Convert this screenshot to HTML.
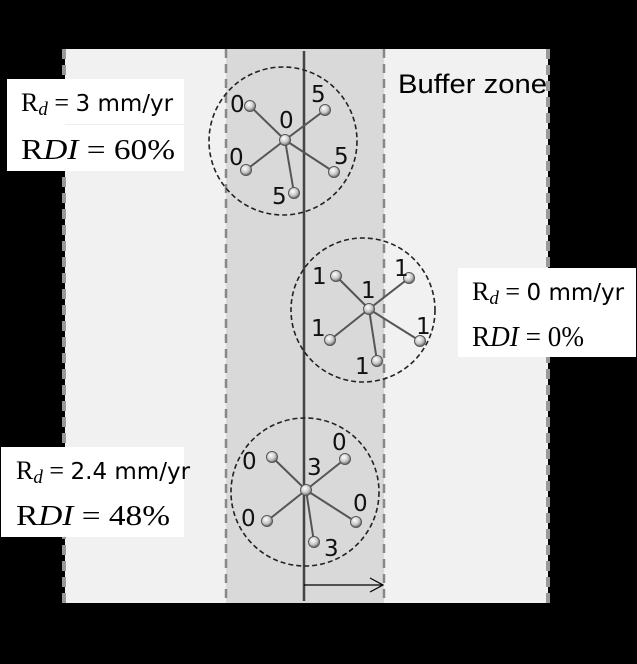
<!DOCTYPE html>
<html><head><meta charset="utf-8"><style>
html,body{margin:0;padding:0;background:#000;}
svg{display:block;}
.m{font-family:"Liberation Serif",serif;font-size:26px;fill:#000;}
.r{font-family:"Liberation Serif",serif;font-size:28px;fill:#000;}
.s{font-family:"DejaVu Sans","Liberation Sans",sans-serif;font-size:23px;}
.n{font-family:"DejaVu Sans","Liberation Sans",sans-serif;font-size:23px;fill:#111;}
</style></head><body>
<svg width="637" height="664" viewBox="0 0 637 664" xmlns="http://www.w3.org/2000/svg">
<defs>
<radialGradient id="g" cx="40%" cy="35%" r="65%">
<stop offset="0" stop-color="#fff"/><stop offset="0.6" stop-color="#c8c8c8"/><stop offset="1" stop-color="#666"/>
</radialGradient>
</defs>
<rect width="637" height="664" fill="#000"/>
<rect x="65" y="49" width="483" height="554" fill="#f1f1f1"/>
<rect x="226" y="49" width="158" height="554" fill="#d9d9d9"/>
<g stroke="#999" stroke-width="4" stroke-dasharray="10,6">
<line x1="64" y1="49" x2="64" y2="603"/>
<line x1="548" y1="49" x2="548" y2="603"/>
</g>
<g stroke="#888" stroke-width="2.5" stroke-dasharray="9,6">
<line x1="226" y1="49" x2="226" y2="603"/>
<line x1="384" y1="49" x2="384" y2="603"/>
</g>
<line x1="304" y1="51" x2="304" y2="601" stroke="#444" stroke-width="2.5"/>
<line x1="304" y1="585" x2="383" y2="585" stroke="#000" stroke-width="1.2"/>
<polyline points="370,578 383,585 370,592" fill="none" stroke="#000" stroke-width="1.2"/>
<text x="398" y="93" font-family="Liberation Sans,sans-serif" font-size="27" fill="#000" textLength="149" lengthAdjust="spacingAndGlyphs">Buffer zone</text>

<g fill="none" stroke="#222" stroke-width="1.6" stroke-dasharray="5,3">
<circle cx="283" cy="141" r="74"/>
<circle cx="363" cy="310" r="72"/>
<circle cx="305" cy="492" r="74"/>
</g>

<g stroke="#555" stroke-width="2">
<line x1="285" y1="140" x2="250" y2="106"/><line x1="285" y1="140" x2="325" y2="110"/>
<line x1="285" y1="140" x2="246" y2="170"/><line x1="285" y1="140" x2="334" y2="172"/>
<line x1="285" y1="140" x2="294" y2="193"/>
<line x1="369" y1="309" x2="336" y2="276"/><line x1="369" y1="309" x2="409" y2="278"/>
<line x1="369" y1="309" x2="330" y2="340"/><line x1="369" y1="309" x2="420" y2="341"/>
<line x1="369" y1="309" x2="377" y2="361"/>
<line x1="306" y1="490" x2="272" y2="457"/><line x1="306" y1="490" x2="345" y2="459"/>
<line x1="306" y1="490" x2="267" y2="521"/><line x1="306" y1="490" x2="356" y2="522"/>
<line x1="306" y1="490" x2="314" y2="542"/>
</g>
<g fill="url(#g)" stroke="#555" stroke-width="1">
<circle cx="285" cy="140" r="5.5"/><circle cx="250" cy="106" r="5.5"/><circle cx="325" cy="110" r="5.5"/><circle cx="246" cy="170" r="5.5"/><circle cx="334" cy="172" r="5.5"/><circle cx="294" cy="193" r="5.5"/>
<circle cx="369" cy="309" r="5.5"/><circle cx="336" cy="276" r="5.5"/><circle cx="409" cy="278" r="5.5"/><circle cx="330" cy="340" r="5.5"/><circle cx="420" cy="341" r="5.5"/><circle cx="377" cy="361" r="5.5"/>
<circle cx="306" cy="490" r="5.5"/><circle cx="272" cy="457" r="5.5"/><circle cx="345" cy="459" r="5.5"/><circle cx="267" cy="521" r="5.5"/><circle cx="356" cy="522" r="5.5"/><circle cx="314" cy="542" r="5.5"/>
</g>
<g class="n">
<text x="230" y="112">0</text><text x="279" y="128">0</text><text x="311" y="102">5</text>
<text x="229" y="165">0</text><text x="334" y="164">5</text><text x="272" y="204">5</text>
<text x="312" y="284">1</text><text x="394" y="276">1</text><text x="361" y="298">1</text>
<text x="311" y="336">1</text><text x="416" y="334">1</text><text x="355" y="374">1</text>
<text x="242" y="469">0</text><text x="332" y="450">0</text><text x="307" y="475">3</text>
<text x="353" y="511">0</text><text x="241" y="526">0</text><text x="324" y="556">3</text>
</g>

<rect x="7" y="79" width="177" height="92" fill="#fff"/>
<line x1="65" y1="124.5" x2="184" y2="124.5" stroke="#eee"/>
<text class="m" x="21" y="111">R<tspan font-style="italic" font-size="19" dy="4">d</tspan><tspan dy="-4"> = </tspan><tspan class="s">3 mm/yr</tspan></text>
<text class="r" x="21" y="159" textLength="154" lengthAdjust="spacingAndGlyphs">R<tspan font-style="italic">DI</tspan> = 60%</text>

<rect x="458" y="268" width="178" height="89" fill="#fff"/>
<text class="m" x="472" y="300">R<tspan font-style="italic" font-size="19" dy="4">d</tspan><tspan dy="-4"> = </tspan><tspan class="s">0 mm/yr</tspan></text>
<text class="r" x="472" y="346" textLength="112" lengthAdjust="spacingAndGlyphs">R<tspan font-style="italic">DI</tspan> = 0%</text>

<rect x="1" y="447" width="183" height="90" fill="#fff"/>
<text class="m" x="16" y="479">R<tspan font-style="italic" font-size="19" dy="4">d</tspan><tspan dy="-4"> = </tspan><tspan class="s">2.4 mm/yr</tspan></text>
<text class="r" x="16" y="525" textLength="154" lengthAdjust="spacingAndGlyphs">R<tspan font-style="italic">DI</tspan> = 48%</text>
</svg>
</body></html>
